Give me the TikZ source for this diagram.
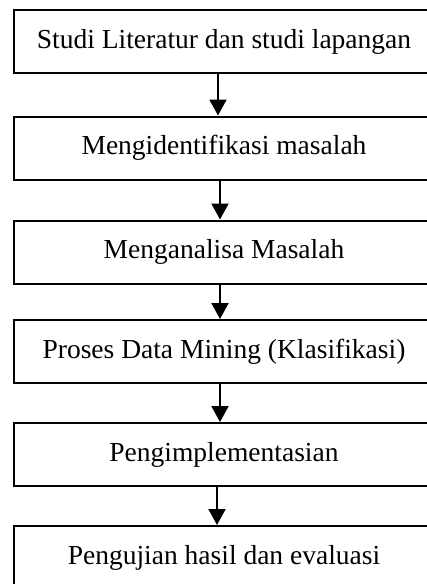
\documentclass[tikz,border=0pt]{standalone}
\usepackage{fontspec}
\setmainfont{Liberation Serif}
\usetikzlibrary{arrows.meta}
\tikzset{
  stage/.style={draw,rectangle,line width=2pt,minimum width=420pt,minimum height=63pt,
    inner sep=0pt,font=\fontsize{27.5}{32}\selectfont},
  flow/.style={line width=2pt,-{Triangle[width=17pt,length=16pt]}}
}
\begin{document}
\begin{tikzpicture}[x=1pt,y=-1pt]
      \useasboundingbox (0,0) rectangle (427,584);
      \node[stage] (b1) at (224,41.5) {Studi Literatur dan studi lapangan};
      \node[stage] (b2) at (224,148) {Mengidentifikasi masalah};
      \node[stage] (b3) at (224,252) {Menganalisa Masalah};
      \node[stage] (b4) at (224,351.5) {Proses Data Mining (Klasifikasi)};
      \node[stage] (b5) at (224,454.5) {Pengimplementasian};
      \node[stage] (b6) at (224,557.5) {Pengujian hasil dan evaluasi};
      \draw[flow] ([xshift=-6pt]b1.south)--([xshift=-6pt]b2.north);
      \draw[flow] ([xshift=-4pt]b2.south)--([xshift=-4pt]b3.north);
      \draw[flow] ([xshift=-4pt]b3.south)--([xshift=-4pt]b4.north);
      \draw[flow] ([xshift=-4pt]b4.south)--([xshift=-4pt]b5.north);
      \draw[flow] ([xshift=-7pt]b5.south)--([xshift=-7pt]b6.north);
    \end{tikzpicture}
\end{document}
